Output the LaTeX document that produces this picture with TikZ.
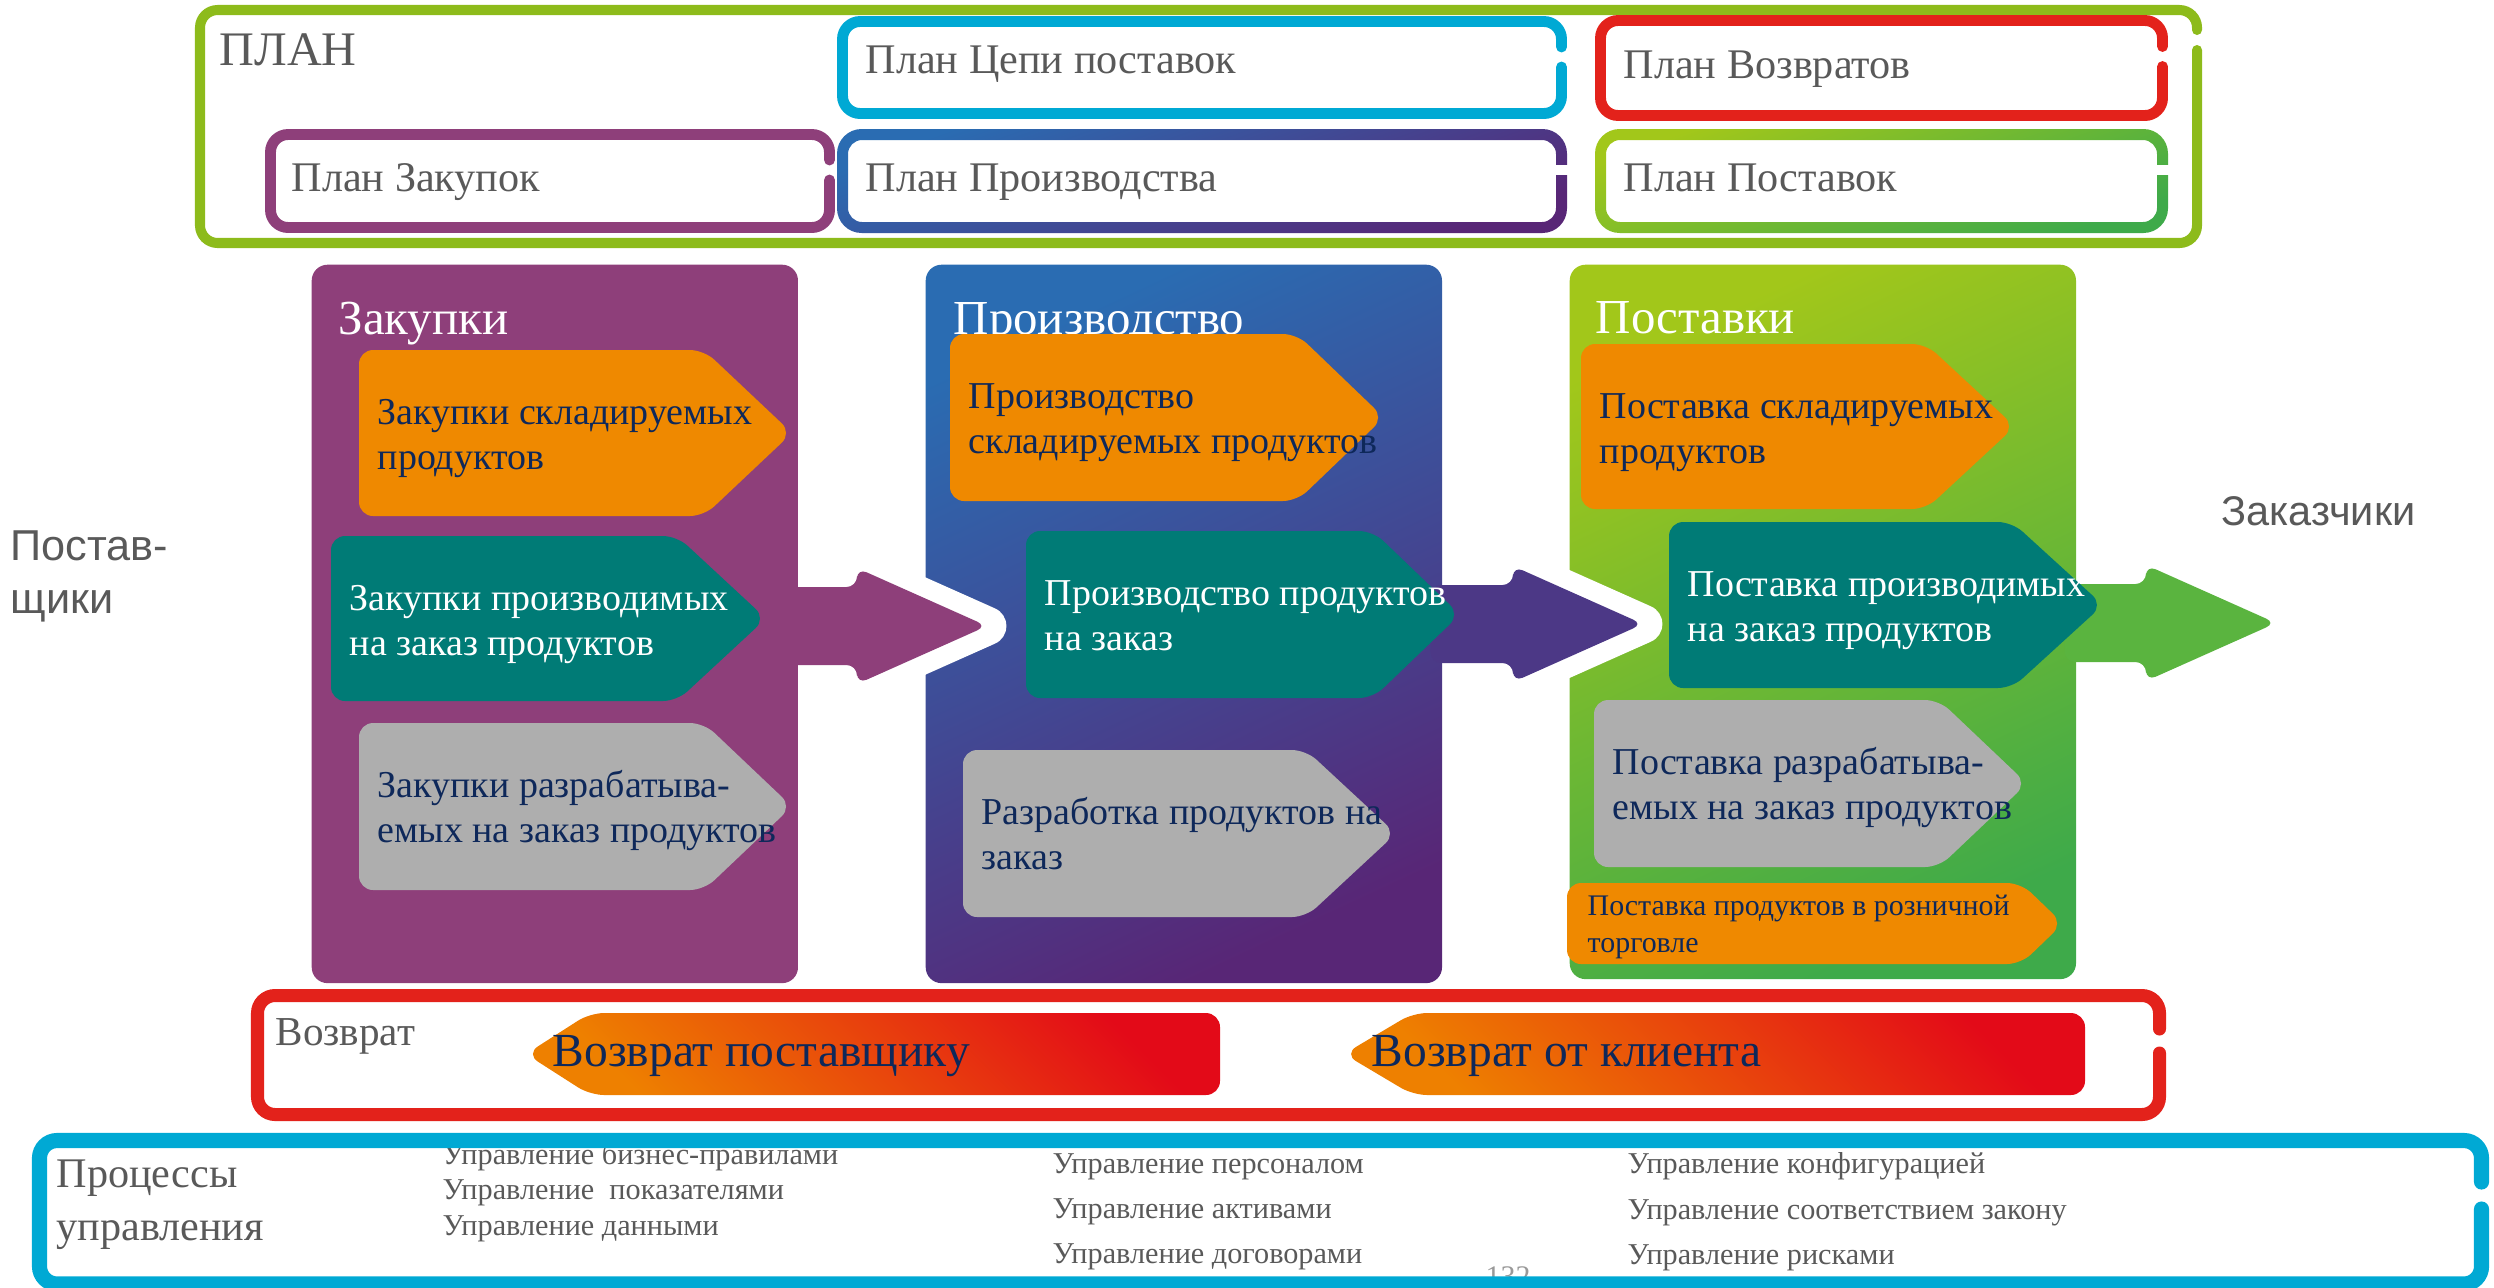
\documentclass[tikz,border=0pt]{standalone}
\usepackage{fontspec}
\setmainfont{Liberation Serif}
\setsansfont{Liberation Sans}
\usetikzlibrary{
	positioning				% relative placement
	, calc					% offsets from anchors
}

\definecolor{planlime}{RGB}{141,187,27}
\definecolor{cyanline}{RGB}{0,169,212}
\definecolor{retred}{RGB}{227,34,27}
\definecolor{zakpurple}{RGB}{142,63,122}
\definecolor{prodblue}{RGB}{42,108,178}
\definecolor{prodviolet}{RGB}{88,38,118}
\definecolor{postlime}{RGB}{162,199,26}
\definecolor{postgreen}{RGB}{62,170,74}
\definecolor{tagorange}{RGB}{239,137,0}
\definecolor{tagteal}{RGB}{0,123,118}
\definecolor{taggray}{RGB}{174,174,174}
\definecolor{navytext}{RGB}{14,40,90}
\definecolor{labelgray}{RGB}{89,89,89}
\definecolor{indigoarrow}{RGB}{76,56,134}
\definecolor{greenarrow}{RGB}{90,180,63}
\definecolor{backred}{RGB}{227,10,24}
\definecolor{backorange}{RGB}{238,128,0}

\begin{document}
\begin{tikzpicture}[
		x=0.01cm, y=-0.01cm
		, lbl/.style={inner sep=0pt, anchor=base west, align=left}	% multi-line: base is the last line
		, planlbl/.style={lbl, text=labelgray, font=\fontsize{12}{14}\selectfont}
		, coltitle/.style={lbl, text=white, font=\fontsize{13.9}{17}\selectfont}
		, tagtext/.style={lbl, font=\fontsize{10.8}{12.8}\selectfont}
		, colbox/.style={draw=none, rounded corners=4.5pt, anchor=north west, inner sep=0pt}
		, ringframe/.style={line width=3.1pt, rounded corners=5pt, line cap=round}
		, mgmt/.style={lbl, text=labelgray, font=\fontsize{8.6}{12.8}\selectfont}]

		\useasboundingbox (0,0) rectangle (2494,1287);

		%%% Planning block
		%% Outer frame, open on the right
		\draw[ringframe, line width=2.85pt, draw=planlime] (2197,50) -- (2197,243) -- (200,243) -- (200,10) -- (2197,10) -- (2197,30);

		%% Plain sub-plans
		\foreach \l/\t/\r/\b/\g/\col in {842.5/21.5/1561.5/113.5/57/cyanline, 1600.5/20.5/2162.5/115.5/56.5/retred, 270.5/134.5/829.5/227.5/170/zakpurple} {
			\draw[ringframe, draw=\col] (\r,\g+10) -- (\r,\b) -- (\l,\b) -- (\l,\t) -- (\r,\t) -- (\r,\g-10);
		};

		%% Shaded sub-plans
		\shade[even odd rule, top color=prodblue, bottom color=prodviolet, shading angle=20]
			[rounded corners=7pt] (837,129) rectangle (1567,233) [rounded corners=4pt] (848,140) rectangle (1556,222);
		\fill[white] (1553,165) rectangle (1570,175);
		\shade[even odd rule, top color=postlime, bottom color=postgreen, shading angle=20]
			[rounded corners=7pt] (1595,129) rectangle (2168,233) [rounded corners=4pt] (1606,140) rectangle (2157,222);
		\fill[white] (2154,165) rectangle (2171,175);

		\node[lbl, text=labelgray, font=\fontsize{13.7}{16}\selectfont] (plan) at (219,65) {ПЛАН};
		\node[planlbl] (plancepi) at (865,73) {План Цепи поставок};
		\node[planlbl] (planvozvr) at (1623,78) {План Возвратов};
		\node[planlbl] (planzak) at (291,191) {План Закупок};
		\node[planlbl] (planproizv) at (865,191) {План Производства};
		\node[planlbl] (planpost) at (1623,191) {План Поставок};

		%%% Process columns
		\node[colbox, fill=zakpurple, minimum width=4.86cm, minimum height=7.18cm] (zak) at (311,264) {};
		\node[colbox, top color=prodblue, bottom color=prodviolet, shading angle=25, minimum width=5.16cm, minimum height=7.18cm] (proizv) at (925,264) {};
		\node[colbox, top color=postlime, bottom color=postgreen, shading angle=25, minimum width=5.06cm, minimum height=7.14cm] (post) at (1569,264) {};

		\node[coltitle] (zaktitle) at (338,334) {Закупки};
		\node[coltitle] (proizvtitle) at (953,334) {Производство};
		\node[coltitle] (posttitle) at (1595,333) {Поставки};

		%% Flow arrows between the columns
		\coordinate (tipzp) at (987,626);
		\coordinate (tippp) at (1643,624);
		\coordinate (tipkunden) at (2276,623);

		\foreach \src/\tip/\col in {zak/tipzp/zakpurple, proizv/tippp/indigoarrow, post/tipkunden/greenarrow} {
			\draw[white, line width=11pt, line join=round, line cap=round]
				($(\tip)+(-130,-39)$) -- ($(\tip)+(-130,-58)$) -- (\tip) -- ($(\tip)+(-130,58)$) -- ($(\tip)+(-130,39)$);
			\fill[\col, rounded corners=3pt]
				($(\src.east |- \tip)+(-12,-39)$) -- ($(\tip)+(-130,-39)$) -- ($(\tip)+(-130,-58)$) -- (\tip)
				-- ($(\tip)+(-130,58)$) -- ($(\tip)+(-130,39)$) -- ($(\src.east |- \tip)+(-12,39)$) -- cycle;
		};

		%% Process tags
		\foreach \nm/\l/\t/\s/\p/\b/\col/\tc/\txt in {
			zak1/359/350/704/792/516/tagorange/navytext/{Закупки складируемых\\продуктов},
			zak2/331/536/677/766/701/tagteal/white/{Закупки производимых\\на заказ продуктов},
			zak3/359/723/704/792/890/taggray/navytext/{Закупки разрабатыва-\\емых на заказ продуктов},
			proizv1/950/334/1297/1384/501/tagorange/navytext/{Производство\\складируемых продуктов},
			proizv2/1026/531/1373/1460/698/tagteal/white/{Производство продуктов\\на заказ},
			proizv3/963/750/1306/1396/917/taggray/navytext/{Разработка продуктов на\\заказ},
			post1/1581/344/1926/2015/509/tagorange/navytext/{Поставка складируемых\\продуктов},
			post2/1669/522/2012/2103/688/tagteal/white/{Поставка производимых\\на заказ продуктов},
			post3/1594/700/1939/2027/867/taggray/navytext/{Поставка разрабатыва-\\емых на заказ продуктов}} {
			\fill[\col, rounded corners=4pt] (\l,\t) -- (\s,\t) -- (\p,{(\t+\b)/2}) -- (\s,\b) -- (\l,\b) -- cycle;
			\node[tagtext, text=\tc] (\nm) at (\l+18,\t+119) {\txt};
		};

		\fill[tagorange, rounded corners=4pt] (1567,883) -- (2021,883) -- (2063,923.5) -- (2021,964) -- (1567,964) -- cycle;
		\node[lbl, text=navytext, font=\fontsize{8.5}{10.5}\selectfont] (post4) at (1587,952) {Поставка продуктов в розничной\\торговле};

		%% Chain ends
		\node[lbl, text=labelgray, font=\sffamily\fontsize{12.3}{14.8}\selectfont] (suppliers) at (10,613) {Постав-\\щики};
		\node[lbl, text=labelgray, font=\sffamily\fontsize{11.8}{13.7}\selectfont] (customers) at (2221,525) {Заказчики};

		%%% Returns
		\draw[ringframe, line width=3.7pt, draw=retred] (2159.5,1053) -- (2159.5,1114.5) -- (257.5,1114.5) -- (257.5,995.5) -- (2159.5,995.5) -- (2159.5,1029);
		\node[lbl, text=labelgray, font=\fontsize{11.7}{14}\selectfont] (vozvrat) at (275,1045) {Возврат};

		\shade[top color=backred, bottom color=backorange, shading angle=-45, rounded corners=4pt]
			(526,1054) -- (590,1013) -- (1220,1013) -- (1220,1095) -- (590,1095) -- cycle;
		\node[lbl, text=navytext, font=\fontsize{13.5}{15}\selectfont] (tosupplier) at (552,1066) {Возврат поставщику};
		\shade[top color=backred, bottom color=backorange, shading angle=-45, rounded corners=4pt]
			(1344,1054) -- (1413,1013) -- (2085,1013) -- (2085,1095) -- (1413,1095) -- cycle;
		\node[lbl, text=navytext, font=\fontsize{13.5}{15}\selectfont] (fromclient) at (1371,1066) {Возврат от клиента};

		%%% Management processes
		\node[lbl, text=labelgray, font=\fontsize{12}{14.8}\selectfont] (mgmttitle) at (56,1240) {Процессы\\управления};
		\node[mgmt, font=\fontsize{8.6}{10}\selectfont] (mgmt1) at (442,1235) {Управление бизнес-правилами\\Управление\ \ показателями\\Управление данными};
		\node[mgmt] (mgmt2) at (1052,1263) {Управление персоналом\\Управление активами\\Управление договорами};
		\node[mgmt] (mgmt3) at (1627,1264) {Управление конфигурацией\\Управление соответствием закону\\Управление рисками};
		\node[lbl, text=gray!80, font=\fontsize{8.5}{10}\selectfont] (pagenum) at (1485,1286) {132};

		\draw[ringframe, line width=4.3pt, draw=cyanline] (2481.5,1209) -- (2481.5,1284) -- (39.5,1284) -- (39.5,1140.5) -- (2481.5,1140.5) -- (2481.5,1182);
	\end{tikzpicture}
\end{document}
